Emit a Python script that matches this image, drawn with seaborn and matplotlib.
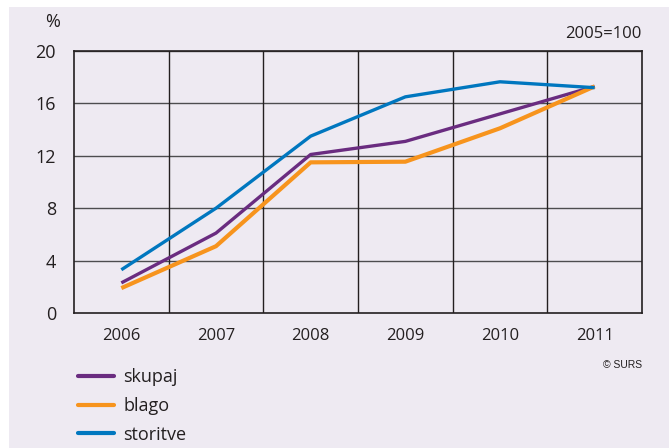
import matplotlib
matplotlib.use("Agg")
import matplotlib.pyplot as plt
import pandas as pd
import seaborn as sns
from matplotlib.patches import Rectangle

# data (2005=100, growth in %)
years = ["2006", "2007", "2008", "2009", "2010", "2011"]
skupaj = [2.3, 6.1, 12.1, 13.1, 15.2, 17.3]
blago = [1.9, 5.1, 11.5, 11.55, 14.1, 17.3]
storitve = [3.3, 8.0, 13.5, 16.5, 17.65, 17.2]
series = ["skupaj", "blago", "storitve"]
colors = {"skupaj": "#6A2C80", "blago": "#F7941D", "storitve": "#0077BF"}
widths = {"skupaj": 2.4, "blago": 3.0, "storitve": 2.4}
yticks = [0, 4, 8, 12, 16, 20]

df = pd.DataFrame({"leto": years * 3,
                   "vrednost": skupaj + blago + storitve,
                   "serija": [s for s in series for _ in years]})
df["x"] = df["leto"].map({y: i for i, y in enumerate(years)})

sns.set_theme(style="white")
plt.rcParams["font.family"] = ["Open Sans", "DejaVu Sans"]
bg = "#EEEAF2"
ink = "#231F20"

fig = plt.figure(figsize=(6.69, 4.48), dpi=100, facecolor="white")
fig.patches.append(Rectangle((9 / 669, 0), 1, 1 - 7 / 448, transform=fig.transFigure,
                             facecolor=bg, edgecolor="none", zorder=-10))
ax = fig.add_axes([74 / 669, 1 - 313 / 448, (642 - 74) / 669, (313 - 51) / 448])
ax.set_facecolor(bg)

sns.lineplot(data=df, x="x", y="vrednost", hue="serija", palette=colors,
             hue_order=series, ax=ax, legend=False, zorder=3)
for line, s in zip(ax.get_lines(), series):
    line.set_linewidth(widths[s])
    line.set_solid_capstyle("butt")

ax.set_xlim(-0.5, len(years) - 0.5)
ax.set_ylim(0, 20)
ax.set_yticks(yticks)
ax.set_yticklabels([str(t) for t in yticks], fontsize=13, color=ink)
ax.set_xticks(range(len(years)))
ax.set_xticklabels(years, fontsize=12, color=ink)
ax.tick_params(axis="both", length=0)
ax.tick_params(axis="y", pad=13)
ax.tick_params(axis="x", pad=11)
ax.set_xlabel("")
ax.set_ylabel("")

# grid: horizontal at y ticks, vertical between years
for t in yticks[1:]:
    ax.axhline(t, color="#4D4D4F", lw=1.0, zorder=1)
for i in range(len(years) - 1):
    ax.axvline(i + 0.5, color=ink, lw=1.0, zorder=1)
for side in ["left", "bottom", "top", "right"]:
    ax.spines[side].set_visible(True)
    ax.spines[side].set_color(ink)
    ax.spines[side].set_linewidth(1.2)

fig.text(60 / 669, 1 - 22 / 448, "%", ha="right", va="center", fontsize=13, color=ink)
fig.text(641 / 669, 1 - 34 / 448, "2005=100", ha="right", va="center", fontsize=12, color=ink)
fig.text(642 / 669, 1 - 365 / 448, "© SURS", ha="right", va="center", fontsize=7.5,
         color=ink, family=["Liberation Sans", "DejaVu Sans"])

handles = [plt.Line2D([], [], color=colors[s], lw=3) for s in series]
fig.legend(handles, series, loc="upper left", bbox_to_anchor=(78 / 669, 1 - 368 / 448),
           frameon=False, fontsize=13, handlelength=2.0, handletextpad=0.5,
           labelspacing=0.6, borderaxespad=0, borderpad=0, labelcolor=ink)

fig.savefig("out.png", dpi=100, facecolor="white")
